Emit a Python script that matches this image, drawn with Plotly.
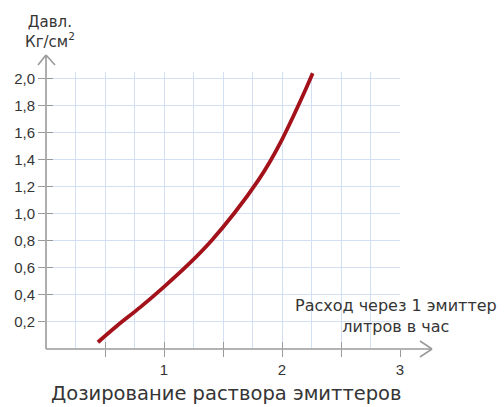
import plotly.graph_objects as go

# Flow through one emitter (l/h) vs pressure (kg/cm2)
flow = [0.44, 0.6, 0.8, 1.0, 1.2, 1.4, 1.6, 1.8, 1.9, 2.0, 2.1, 2.2, 2.26]
pressure = [0.05, 0.17, 0.31, 0.46, 0.62, 0.80, 1.01, 1.25, 1.39, 1.55, 1.73, 1.92, 2.04]

x_tick_vals = [0.5, 1, 1.5, 2, 2.5, 3]
x_tick_text = ["", "1", "", "2", "", "3"]
y_tick_vals = [0.2, 0.4, 0.6, 0.8, 1.0, 1.2, 1.4, 1.6, 1.8, 2.0]
y_tick_text = ["0,2", "0,4", "0,6", "0,8", "1,0", "1,2", "1,4", "1,6", "1,8", "2,0"]

FONT = "Liberation Sans, Arial, sans-serif"
WIDE = "DejaVu Sans, sans-serif"
TXT = "#353535"
AX = "#9a9a9a"
GRID = "#d3e0f3"

Y_MAX = 2.05

fig = go.Figure()
fig.add_trace(go.Scatter(
    x=flow, y=pressure, mode="lines",
    line=dict(color="#a3121a", width=3.8, shape="spline", smoothing=1.0),
    hoverinfo="skip", showlegend=False,
))
# invisible helper trace so the overlay tick axes are drawn
fig.add_trace(go.Scatter(
    x=flow, y=pressure, mode="lines", xaxis="x2", yaxis="y2",
    line=dict(color="rgba(0,0,0,0)", width=0), hoverinfo="skip", showlegend=False,
))

W, H = 504, 407
L, R, B = 46, 104, 58
T = round(349 - Y_MAX * 135)
pw, ph = W - L - R, H - T - B

fig.update_layout(
    width=W, height=H,
    margin=dict(l=L, r=R, t=T, b=B, pad=0),
    paper_bgcolor="white", plot_bgcolor="white",
    font=dict(family=FONT, color=TXT, size=15),
    showlegend=False,
    xaxis=dict(
        range=[0, 3], tickvals=x_tick_vals, ticktext=x_tick_text,
        ticks="outside", ticklen=7, tickcolor=AX, tickwidth=1,
        showline=False, zeroline=False,
        showgrid=True, gridcolor=GRID, gridwidth=1,
        minor=dict(dtick=0.25, tick0=0, showgrid=True, gridcolor=GRID, gridwidth=1, ticks=""),
        tickfont=dict(size=15, color=TXT, family=FONT),
    ),
    yaxis=dict(
        range=[0, Y_MAX], tickvals=y_tick_vals, ticktext=y_tick_text,
        ticks="outside", ticklen=7, tickcolor=AX, tickwidth=1,
        showline=False, zeroline=False,
        showgrid=True, gridcolor=GRID, gridwidth=1,
        tickfont=dict(size=15, color=TXT, family=FONT),
    ),
    xaxis2=dict(
        overlaying="x", anchor="y", side="bottom", range=[0, 3],
        tickvals=x_tick_vals[:-1], ticks="inside", ticklen=7, tickcolor=AX, tickwidth=1,
        showticklabels=False, showgrid=False, zeroline=False, showline=False,
    ),
    yaxis2=dict(
        overlaying="y", anchor="x", side="left", range=[0, Y_MAX],
        tickvals=y_tick_vals[1:], ticks="inside", ticklen=7, tickcolor=AX, tickwidth=1,
        showticklabels=False, showgrid=False, zeroline=False, showline=False,
    ),
)

# axis lines with open arrowheads (paper coords)
def px_x(p):
    return (p - L) / pw

def px_y(p):
    return (H - B - p) / ph

lw = 1.6
shapes = [
    dict(type="line", xref="paper", yref="paper", x0=0, y0=0, x1=0, y1=px_y(55), line=dict(color=AX, width=lw)),
    dict(type="line", xref="paper", yref="paper", x0=px_x(38), y0=px_y(65), x1=0, y1=px_y(55), line=dict(color=AX, width=lw)),
    dict(type="line", xref="paper", yref="paper", x0=px_x(55), y0=px_y(65), x1=0, y1=px_y(55), line=dict(color=AX, width=lw)),
    dict(type="line", xref="paper", yref="paper", x0=0, y0=0, x1=px_x(432), y1=0, line=dict(color=AX, width=lw)),
    dict(type="line", xref="paper", yref="paper", x0=px_x(420), y0=px_y(341), x1=px_x(432), y1=0, line=dict(color=AX, width=lw)),
    dict(type="line", xref="paper", yref="paper", x0=px_x(420), y0=px_y(357), x1=px_x(432), y1=0, line=dict(color=AX, width=lw)),
]
fig.update_layout(shapes=shapes)

fig.add_annotation(
    xref="paper", yref="paper", x=px_x(50), y=px_y(32),
    text="Давл.<br>Кг/см<sup>2</sup>", showarrow=False, align="center",
    font=dict(size=15, color=TXT, family=WIDE), xanchor="center", yanchor="middle",
)
fig.add_annotation(
    xref="paper", yref="paper", x=px_x(396), y=px_y(316),
    text="Расход через 1 эмиттер<br>литров в час", showarrow=False, align="center",
    font=dict(size=16, color=TXT, family=WIDE), xanchor="center", yanchor="middle",
)
fig.add_annotation(
    xref="paper", yref="paper", x=px_x(226), y=px_y(393),
    text="Дозирование раствора эмиттеров", showarrow=False, align="center",
    font=dict(size=19.5, color=TXT, family=WIDE), xanchor="center", yanchor="middle",
)

fig.write_html(
    "out.html",
    config={"displayModeBar": False},
    post_script="document.body.style.margin='0px';",
)
